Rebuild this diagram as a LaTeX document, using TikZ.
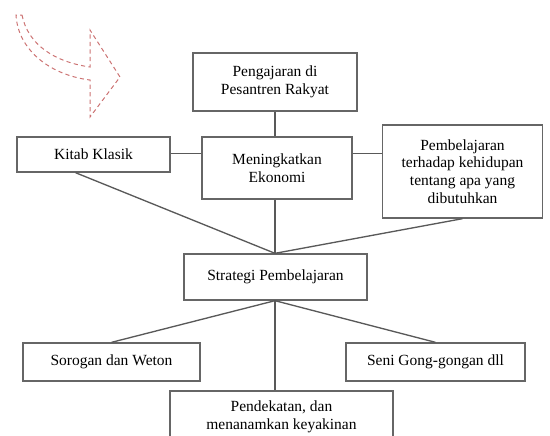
\documentclass[tikz,border=0pt]{standalone}
\usepackage{fontspec}
\setmainfont{Liberation Serif}
\usetikzlibrary{positioning, calc}
\definecolor{LineGray}{rgb}{0.35, 0.35, 0.35}
\definecolor{BoxGray}{rgb}{0.40, 0.40, 0.40}
\definecolor{ArrowRed}{rgb}{0.80, 0.45, 0.45}

\begin{document}
\begin{tikzpicture}[x=0.6pt, y=-0.6pt,
    font=\fontsize{9.3}{10.6}\selectfont,
    box/.style={draw=BoxGray, line width=0.8pt, align=center, inner sep=0pt},
    link/.style={draw=LineGray, line width=0.8pt}]

\useasboundingbox (0,0) rectangle (550,435);

% --- panah putus-putus ---
\draw[ArrowRed, line width=0.6pt, dash pattern=on 2.5pt off 2pt]
    (22,15) .. controls (28,45) and (55,62) .. (90,67)
    -- (90,30) -- (120,77) -- (90,117) -- (90,80)
    .. controls (50,75) and (18,50) .. (16,15) -- cycle;

% --- kotak atas ---
\node[box, minimum width=98.4pt, minimum height=34.8pt] (pengajaran) at (275,82)
    {Pengajaran di\\Pesantren Rakyat};
\node[box, minimum width=90pt, minimum height=37.2pt] (ekonomi) at (277,168)
    {Meningkatkan\\Ekonomi};
\node[box, minimum width=91.8pt, minimum height=21pt] (kitab) at (93.5,154.5)
    {Kitab Klasik};
\node[box, minimum width=96pt, minimum height=55.8pt] (kehidupan) at (462.5,171.5)
    {Pembelajaran\\terhadap kehidupan\\tentang apa yang\\dibutuhkan};

% --- strategi ---
\node[box, minimum width=109.8pt, minimum height=27.6pt] (strategi) at (275.5,277)
    {Strategi Pembelajaran};

% --- kotak bawah ---
\node[box, minimum width=106.2pt, minimum height=22.8pt] (sorogan) at (111.5,362)
    {Sorogan dan Weton};
\node[box, minimum width=107.4pt, minimum height=22.8pt] (seni) at (435.5,362)
    {Seni Gong-gongan dll};
\node[box, minimum width=133.8pt, minimum height=31.2pt] (pendekatan) at (281.5,417)
    {Pendekatan, dan\\menanamkan keyakinan};

% --- garis penghubung ---
\draw[link] (pengajaran.south) -- (pengajaran.south |- ekonomi.north);
\draw[link] ($(kitab.east)+(0,-1)$) -- ($(kitab.east -| ekonomi.west)+(0,-1)$);
\draw[link] ($(kitab.east -| ekonomi.east)+(0,-1)$) -- ($(kitab.east -| kehidupan.west)+(0,-1)$);
\draw[link] (pengajaran.south |- ekonomi.south) -- (pengajaran.south |- strategi.north);
\draw[link] ($(kitab.south)+(-18,0)$) -- (pengajaran.south |- strategi.north);
\draw[link] (kehidupan.south) -- (pengajaran.south |- strategi.north);

\draw[link] (pengajaran.south |- strategi.south) -- (sorogan.north);
\draw[link] (pengajaran.south |- strategi.south) -- (seni.north);
\draw[link] (pengajaran.south |- strategi.south) -- (pengajaran.south |- pendekatan.north);

\end{tikzpicture}
\end{document}
